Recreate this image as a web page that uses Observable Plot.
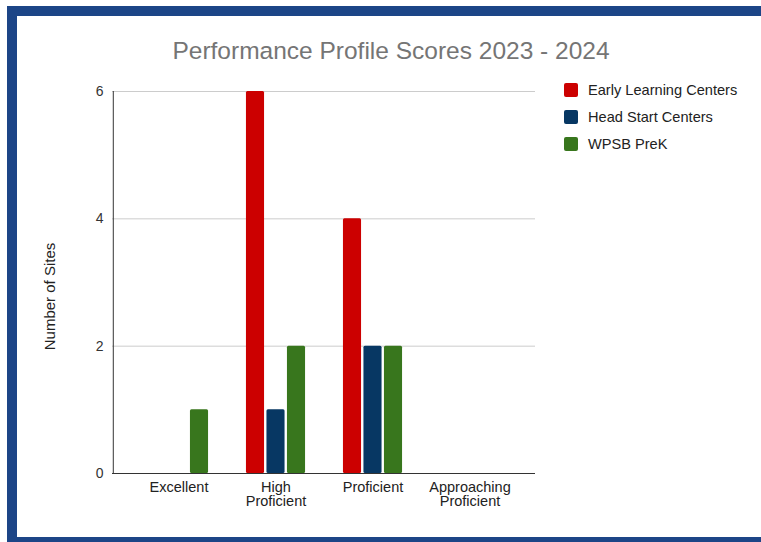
<!DOCTYPE html>
<html><head><meta charset="utf-8">
<script src="https://cdn.jsdelivr.net/npm/d3@7"></script>
<script src="https://cdn.jsdelivr.net/npm/@observablehq/plot@0.6"></script>
<style>
body{margin:0;background:#fff;font-family:"Liberation Sans",Arial,sans-serif;width:761px;height:542px;overflow:hidden;position:relative;}
#frame{position:absolute;left:7px;top:6px;width:754px;height:536px;box-sizing:border-box;border-left:10px solid #1c4587;border-top:10px solid #1c4587;border-bottom:5px solid #1c4587;}
#title{position:absolute;left:0;width:782px;top:37px;text-align:center;font-size:24.5px;color:#757575;}
#chart{position:absolute;left:0;top:75px;}
#legend{position:absolute;left:564px;top:82px;font-size:14.6px;color:#222;}
.item{display:flex;align-items:center;height:16px;margin-bottom:11px;}
.sw{width:14px;height:14px;border-radius:2px;margin-right:10px;}
</style></head>
<body>
<div id="frame"></div>
<div id="title">Performance Profile Scores 2023 - 2024</div>
<div id="chart"></div>
<div id="legend"></div>
<script>
const categories = ["Excellent", "High Proficient", "Proficient", "Approaching Proficient"];
const tickLabels = ["Excellent", "High\nProficient", "Proficient", "Approaching\nProficient"];
const seriesNames = ["Early Learning Centers", "Head Start Centers", "WPSB PreK"];
const earlyLearning = [0, 6, 4, 0];
const headStart = [0, 1, 2, 0];
const wpsbPreK = [1, 2, 2, 0];
const yTicks = [0, 2, 4, 6];
const colors = ["#cc0000", "#073763", "#38761d"];

const seriesValues = [earlyLearning, headStart, wpsbPreK];
const rows = [];
seriesNames.forEach((s, j) => categories.forEach((c, i) => rows.push({category: c, series: s, value: seriesValues[j][i]})));

const barWidth = 18.3, barStep = 20.5, bandStep = 97.2, outerPad = 0.176;
const inset = (bandStep - barWidth) / 2;

const chart = Plot.plot({
  width: 540,
  height: 445,
  marginLeft: 112,
  marginRight: 5,
  marginTop: 16,
  marginBottom: 47,
  style: {fontFamily: "Liberation Sans, Arial, sans-serif", fontSize: "14px", color: "#333", background: "transparent"},
  x: {domain: categories, padding: 0, paddingOuter: outerPad, axis: null},
  y: {domain: [0, 6], ticks: yTicks, tickFormat: d => String(d), tickSize: 0, tickPadding: 9, label: null},
  color: {domain: seriesNames, range: colors},
  marks: [
    Plot.ruleY(yTicks.filter(t => t > 0), {stroke: "#cccccc", strokeWidth: 1}),
    ...seriesNames.map((s, j) => Plot.barY(rows.filter(r => r.series === s), {
      x: "category", y: "value", fill: "series",
      dx: (j - 1) * barStep, insetLeft: inset, insetRight: inset, rx: 1.5
    })),
    Plot.ruleX([categories[0]], {y1: 0, y2: 6, dx: -(0.5 + outerPad) * bandStep, stroke: "#333", strokeWidth: 1}),
    Plot.ruleY([0], {stroke: "#333", strokeWidth: 1}),
    Plot.text(categories, {x: d => d, text: (d, i) => tickLabels[i], frameAnchor: "bottom", lineAnchor: "top", dy: 8, fontSize: 14.5, fill: "#222", lineHeight: 1.0}),
    Plot.text(["Number of Sites"], {frameAnchor: "left", textAnchor: "middle", rotate: -90, dx: -62, dy: 14, fontSize: 15, fill: "#222"})
  ]
});
document.getElementById("chart").appendChild(chart);

const legend = document.getElementById("legend");
seriesNames.forEach((s, j) => {
  const it = document.createElement("div"); it.className = "item";
  const sw = document.createElement("div"); sw.className = "sw"; sw.style.background = colors[j];
  const tx = document.createElement("span"); tx.textContent = s;
  it.appendChild(sw); it.appendChild(tx); legend.appendChild(it);
});
</script>
</body></html>
